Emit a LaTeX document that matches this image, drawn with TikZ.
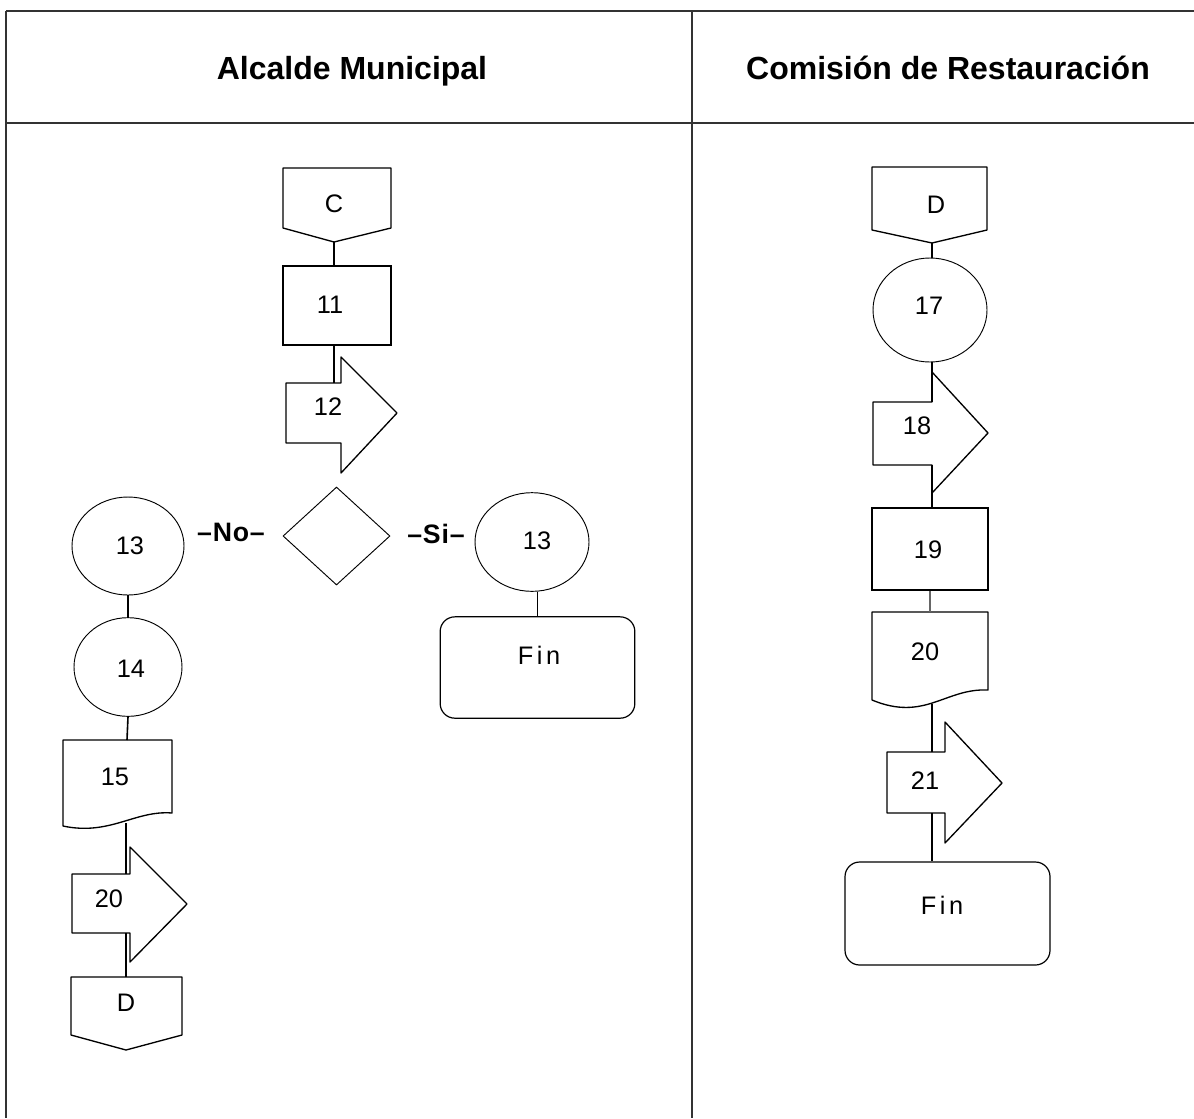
\documentclass[tikz,border=0pt]{standalone}
\usepackage{fontspec}
\setmainfont{Liberation Sans}
\usepackage{tikz}
\usetikzlibrary{shapes.geometric}

\begin{document}
\begin{tikzpicture}[x=0.75pt,y=0.75pt,yscale=-1,xscale=1,
  lbl/.style={font=\fontsize{19}{21}\selectfont, inner sep=0.75pt},
  finlbl/.style={font=\fontsize{19}{21}\selectfont\addfontfeature{LetterSpace=14}, inner sep=0.75pt},
  lanehead/.style={font=\fontsize{24}{28}\selectfont\bfseries, inner sep=0.75pt, anchor=base},
  yesno/.style={font=\fontsize{20}{22}\selectfont\bfseries\addfontfeature{LetterSpace=3}, inner sep=0.75pt},
  procbox/.style={draw, line width=1.2pt, inner sep=0pt},
  circ/.style={draw, ellipse, line width=0.7pt, inner sep=0pt},
  decision/.style={draw, diamond, line width=0.7pt, inner sep=0pt},
  finbox/.style={draw, rounded corners=11pt, line width=0.9pt, inner sep=0pt},
  shp/.style={line width=1.0pt, line join=round},
  flowline/.style={line width=1.2pt}]
\useasboundingbox (0,0) rectangle (1194,1118);

%Table frame
\draw [line width=0.8pt, black!80] (6,11) -- (1194,11) ;
\draw [line width=0.8pt, black!80] (6,123) -- (1194,123) ;
\draw [line width=0.8pt, black!80] (6,11) -- (6,1118) ;
\draw [line width=0.8pt, black!80] (692,11) -- (692,1118) ;

% Text Node
\node [lanehead] (hAlc) at (352,79) {Alcalde Municipal};
% Text Node
\node [lanehead] (hCom) at (948,79) {Comisión de Restauración};

%Shape: Off-page connector C
\draw [shp] (283,168) -- (391,168) -- (391,228) -- (334,242) -- (283,228) -- cycle ;
\coordinate (offCs) at (334,242);
\node [lbl] (tC) at (334,204) {C};
%Shape: Rectangle 11
\node [procbox, minimum width=81pt, minimum height=59pt] (r11) at (337,305.5) {};
\node [lbl] (t11) at (330,305) {11};
%Shape: Arrow 12
\draw [shp] (286,383) -- (341,383) -- (341,357) -- (397,413) -- (341,473) -- (341,443) -- (286,443) -- cycle ;
\coordinate (a12n) at (334,383);
\node [lbl] (t12) at (328,407) {12};
%Shape: Diamond
\node [decision, minimum width=80.25pt, minimum height=73.5pt] (dec) at (336.5,536) {};

% Text Node
\node [yesno] (tNo) at (231,532) {–No–};
% Text Node
\node [yesno] (tSi) at (436,534) {–Si–};

%Shape: Circle 13 (No)
\node [circ, minimum width=84pt, minimum height=73.5pt] (c13L) at (128,546) {};
\node [lbl] (t13L) at (130,546) {13};
%Shape: Circle 14
\node [circ, minimum width=81pt, minimum height=74pt] (c14) at (128,667) {};
\node [lbl] (t14) at (131,669) {14};
%Shape: Document 15
\draw [shp] (63,740) -- (172,740) -- (172,813) .. controls (135,810) and (110,836) .. (63,826) -- cycle ;
\coordinate (d15n) at (127,740);
\coordinate (d15s) at (126,823);
\node [lbl] (t15) at (115,777) {15};
%Shape: Arrow 20
\draw [shp] (72,874) -- (130,874) -- (130,847) -- (187,904) -- (130,962) -- (130,933) -- (72,933) -- cycle ;
\coordinate (a20n) at (126,874);
\coordinate (a20s) at (126,933);
\node [lbl] (t20L) at (109,899) {20};
%Shape: Off-page connector D
\draw [shp] (71,977) -- (182,977) -- (182,1035) -- (126,1050) -- (71,1035) -- cycle ;
\coordinate (offDn) at (126,977);
\node [lbl] (tDL) at (126,1003) {D};

%Shape: Circle 13 (Si)
\node [circ, minimum width=85.5pt, minimum height=74pt] (c13R) at (532,542) {};
\node [lbl] (t13R) at (537,541) {13};
%Shape: Rounded rectangle Fin
\node [finbox, minimum width=146pt, minimum height=76pt] (finL) at (537.5,667.5) {};
\node [finlbl] (tFinL) at (539,655) {Fin};

%Shape: Off-page connector D
\draw [shp] (872,167) -- (987,167) -- (987,230) -- (932,243) -- (872,230) -- cycle ;
\coordinate (offDRs) at (932,243);
\node [lbl] (tDR) at (936,205) {D};
%Shape: Circle 17
\node [circ, minimum width=85.5pt, minimum height=78pt] (c17) at (930,310) {};
\node [lbl] (t17) at (929,306) {17};
%Shape: Arrow 18
\draw [shp] (873,402) -- (932,402) -- (932,372) -- (988,433) -- (932,493) -- (932,465) -- (873,465) -- cycle ;
\coordinate (a18n) at (932,402);
\coordinate (a18s) at (932,465);
\node [lbl] (t18) at (917,426) {18};
%Shape: Rectangle 19
\node [procbox, minimum width=87pt, minimum height=61.5pt] (r19) at (930,549) {};
\node [lbl] (t19) at (928,550) {19};
%Shape: Document 20
\draw [shp] (872,612) -- (988,612) -- (988,690) .. controls (945,688) and (925,722) .. (872,700) -- cycle ;
\coordinate (d20n) at (930,612);
\coordinate (d20s) at (932,704);
\node [lbl] (t20R) at (925,652) {20};
%Shape: Arrow 21
\draw [shp] (887,752) -- (945,752) -- (945,722) -- (1002,783) -- (945,843) -- (945,813) -- (887,813) -- cycle ;
\coordinate (a21n) at (932,752);
\coordinate (a21s) at (932,813);
\node [lbl] (t21) at (925,781) {21};
%Shape: Rounded rectangle Fin
\node [finbox, minimum width=153.75pt, minimum height=77.25pt] (finR) at (947.5,913.5) {};
\node [finlbl] (tFinR) at (942,905) {Fin};

%Connectors
\draw [flowline] (offCs) -- (offCs |- r11.north) ;
\draw [flowline] (a12n |- r11.south) -- (a12n) ;
\draw [flowline] (c13L.south) -- (c14.north) ;
\draw [flowline] (c14.south) -- (d15n) ;
\draw [flowline] (d15s) -- (a20n) ;
\draw [flowline] (a20s) -- (offDn) ;
\draw [flowline] (finL.north |- c13R.south) -- (finL.north) ;
\draw [flowline] (offDRs) -- (offDRs |- c17.north) ;
\draw [flowline] (a18n |- c17.south) -- (a18n) ;
\draw [flowline] (a18s) -- (a18s |- r19.north) ;
\draw [flowline, black!60] (r19.south) -- (d20n) ;
\draw [flowline] (d20s) -- (a21n) ;
\draw [flowline] (a21s) -- (a21s |- finR.north) ;

\end{tikzpicture}
\end{document}
